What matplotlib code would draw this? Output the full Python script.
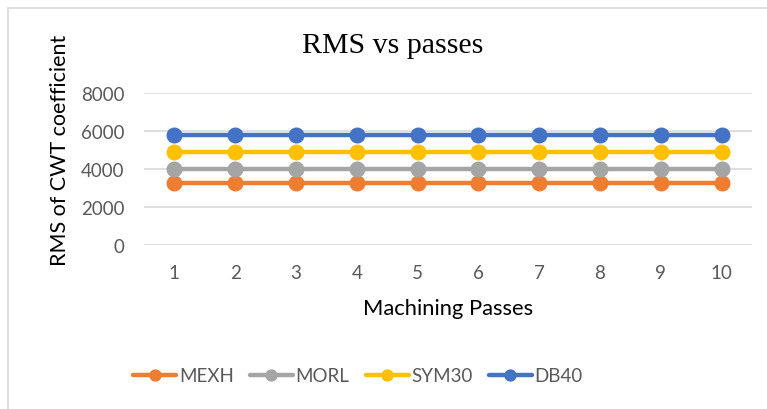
import matplotlib.pyplot as plt
from matplotlib.patches import Rectangle

passes = [1, 2, 3, 4, 5, 6, 7, 8, 9, 10]
mexh = [3250, 3250, 3250, 3250, 3250, 3250, 3250, 3250, 3250, 3250]
morl = [4000, 4000, 4000, 4000, 4000, 4000, 4000, 4000, 4000, 4000]
sym30 = [4900, 4900, 4900, 4900, 4900, 4900, 4900, 4900, 4900, 4900]
db40 = [5800, 5800, 5800, 5800, 5800, 5800, 5800, 5800, 5800, 5800]
y_ticks = [0, 2000, 4000, 6000, 8000]

series = [
    ("MEXH", mexh, "#ED7D31"),
    ("MORL", morl, "#A5A5A5"),
    ("SYM30", sym30, "#FFC000"),
    ("DB40", db40, "#4472C4"),
]

plt.rcParams["font.family"] = ["Lato", "DejaVu Sans"]

W, H = 767, 410
fig = plt.figure(figsize=(W / 100, H / 100), dpi=100)

# chart area frame (only top and left edges fall inside the image)
fig.patches.append(Rectangle((8 / W, -0.1), 1.2, 1 - 9 / H + 0.1,
                             transform=fig.transFigure, fill=False,
                             edgecolor="#d9d9d9", linewidth=1.2))

ax = fig.add_axes([144 / W, 1 - 246 / H, (752 - 144) / W, (246 - 94) / H])

for name, vals, color in series:
    ax.plot(passes, vals, color=color, linewidth=3.2, marker="o",
            markersize=10.5, label=name, solid_capstyle="round", zorder=3)

ax.set_xlim(0.5, 10.5)
ax.set_ylim(0, 8000)
ax.set_yticks(y_ticks)
ax.set_xticks(passes)
ax.grid(axis="y", color="#d9d9d9", linewidth=1.2)
ax.set_axisbelow(True)
for s in ax.spines.values():
    s.set_visible(False)
ax.tick_params(axis="both", length=0, labelsize=13.5, labelcolor="#595959")
ax.tick_params(axis="x", pad=14)
ax.tick_params(axis="y", pad=14)

ax.set_xlabel("Machining Passes", fontsize=15.8, color="black", labelpad=12)
fig.text(60 / W, 1 - 150 / H, "RMS of CWT coefficient", rotation=90,
         ha="center", va="center", fontsize=15.5, color="black")
fig.text(393 / W, 1 - 46 / H, "RMS vs passes", ha="center", va="center",
         fontsize=21.5, family="Liberation Serif", color="black")

fig.legend(loc="center", bbox_to_anchor=(358 / W, 1 - 377 / H), ncol=4,
           frameon=False, fontsize=13.5, labelcolor="#595959",
           handlelength=2.3, handletextpad=0.15, columnspacing=0.85,
           markerscale=0.75)

fig.savefig("out.png", dpi=100)
